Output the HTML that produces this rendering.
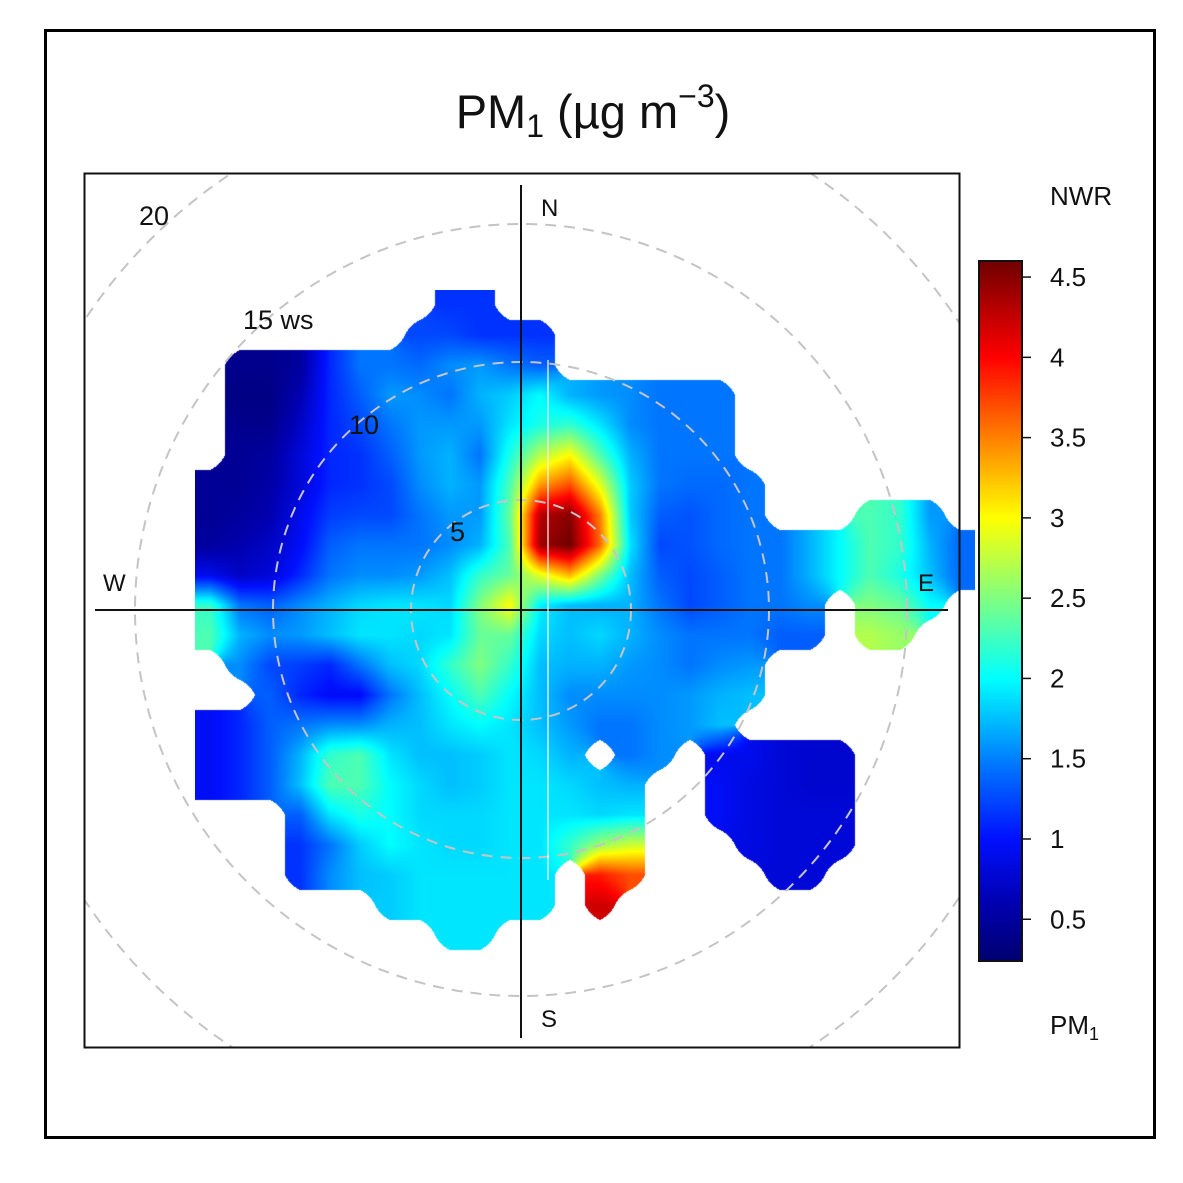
<!DOCTYPE html>
<html><head><meta charset="utf-8">
<style>
html,body{margin:0;padding:0;background:#fff;}
#wrap{position:relative;width:1183px;height:1183px;overflow:hidden;font-family:"Liberation Sans",sans-serif;}
#heat{position:absolute;left:195px;top:290px;}
#ov{position:absolute;left:0;top:0;}
</style></head>
<body>
<div id="wrap">
<canvas id="heat" width="780" height="690"></canvas>
<svg id="ov" width="1183" height="1183" xmlns="http://www.w3.org/2000/svg">
  <defs>
    <clipPath id="pclip"><rect x="84" y="173" width="876" height="875"/></clipPath>
    <linearGradient id="cbgrad" x1="0" y1="1" x2="0" y2="0"></linearGradient>
  </defs>
  <rect x="45.5" y="30.5" width="1109" height="1107" fill="none" stroke="#000" stroke-width="3"/>
  <text x="593" y="128" text-anchor="middle" font-size="47" fill="#111">PM<tspan font-size="32" dy="9">1</tspan><tspan dy="-9"> (µg m</tspan><tspan font-size="32" dy="-21">−3</tspan><tspan dy="21">)</tspan></text>
  <g id="rings" clip-path="url(#pclip)"></g>
  <line x1="521" y1="185" x2="521" y2="1038" stroke="#111" stroke-width="2"/>
  <line x1="95" y1="610" x2="948" y2="610" stroke="#111" stroke-width="2"/>
  <line x1="548" y1="360" x2="548" y2="880" stroke="#fff" stroke-width="1.5" opacity="0.8"/>
  <rect x="84.5" y="173.5" width="875" height="874" fill="none" stroke="#111" stroke-width="2"/>
  <g font-size="24" fill="#111">
    <text x="541" y="216">N</text>
    <text x="541" y="1027">S</text>
    <text x="103" y="591">W</text>
    <text x="918" y="591">E</text>
    <text x="450" y="541" font-size="27">5</text>
    <text x="349" y="434" font-size="27">10</text>
    <text x="243" y="329" font-size="27">15 ws</text>
    <text x="139" y="225" font-size="27">20</text>
  </g>
  <rect x="979" y="261" width="43" height="700" fill="url(#cbgrad)" stroke="#111" stroke-width="2"/>
  <g id="cbticks" font-size="26" fill="#111"></g>
  <text x="1050" y="205" font-size="26" fill="#111">NWR</text>
  <text x="1050" y="1034" font-size="26" fill="#111">PM<tspan font-size="18" dy="6">1</tspan></text>
</svg>
</div>
<script>
const _ = null;
// colour scale
const scaleValues = [0.24, 0.6, 1.0, 1.5, 2.0, 2.5, 3.0, 3.5, 4.0, 4.6];
const scaleColors = ["#000070","#0000B0","#0010FF","#0080FF","#00FFFF","#80FF80","#FFFF00","#FF8000","#FF0000","#700000"];
const tickValues = [0.5, 1, 1.5, 2, 2.5, 3, 3.5, 4, 4.5];
const tickLabels = ["0.5","1","1.5","2","2.5","3","3.5","4","4.5"];
const ringWs = [5, 10, 15, 20];
const ringRadii = [110, 248, 386, 524];
// gridded PM1 values (rows north->south, cols west->east)
const gridRows = [
[_,_,_,_,_,_,_,_,1.15,1.15,_,_,_,_,_,_,_,_,_,_,_,_,_,_,_,_],
[_,_,_,_,_,_,_,1.25,1.25,1.15,1.15,1.15,_,_,_,_,_,_,_,_,_,_,_,_,_,_],
[_,0.4,0.4,0.5,1.1,1.45,1.45,1.4,1.55,1.6,1.45,1.35,_,_,_,_,_,_,_,_,_,_,_,_,_,_],
[_,0.35,0.35,0.6,1.1,1.35,1.6,1.55,1.45,1.7,1.8,2.0,1.7,1.6,1.55,1.45,1.45,1.45,_,_,_,_,_,_,_,_],
[_,0.4,0.4,0.7,1.1,1.25,1.45,1.6,1.6,1.6,1.9,2.1,2.2,1.9,1.55,1.45,1.45,1.45,_,_,_,_,_,_,_,_],
[_,0.45,0.5,0.8,1.1,1.15,1.35,1.6,1.7,1.45,2.1,2.7,3.0,2.3,1.7,1.45,1.45,1.45,_,_,_,_,_,_,_,_],
[0.45,0.45,0.55,0.8,1.1,1.15,1.25,1.55,1.7,1.6,2.3,3.4,3.7,2.9,1.8,1.45,1.4,1.4,1.45,_,_,_,_,_,_,_],
[0.45,0.5,0.6,0.9,1.2,1.25,1.25,1.45,1.6,1.6,2.4,4.3,4.5,3.5,1.8,1.35,1.3,1.4,1.45,_,_,_,2.3,2.2,1.6,_],
[0.5,0.6,0.7,0.95,1.35,1.45,1.45,1.45,1.55,1.7,2.3,4.4,4.6,3.6,1.9,1.25,1.3,1.4,1.45,1.45,1.7,2.0,2.3,2.2,1.7,1.4],
[0.9,0.7,0.8,1.1,1.45,1.55,1.55,1.6,1.75,2.2,2.4,2.9,3.3,2.5,1.75,1.35,1.25,1.35,1.45,1.45,1.7,2.0,2.3,2.1,1.75,1.4],
[2.2,1.45,1.35,1.55,1.7,1.85,1.9,1.9,1.85,2.5,3.0,1.95,1.75,1.7,1.7,1.45,1.25,1.35,1.45,1.45,1.55,_,2.5,2.4,2.0,_],
[2.3,1.7,1.55,1.6,1.75,1.9,1.9,1.85,1.9,2.4,2.4,1.85,1.75,1.85,1.7,1.55,1.45,1.45,1.45,1.35,1.35,_,2.7,2.6,_,_],
[_,1.55,1.25,1.2,1.1,1.45,1.75,1.85,2.2,2.5,2.2,1.75,1.7,1.7,1.6,1.55,1.45,1.55,1.6,_,_,_,_,_,_,_],
[_,_,1.35,1.1,0.95,0.95,1.45,1.75,2.0,2.3,2.0,1.75,1.55,1.55,1.55,1.55,1.6,1.7,1.75,_,_,_,_,_,_,_],
[0.95,1.1,1.35,1.45,1.55,1.55,1.7,1.75,1.9,2.0,1.9,1.75,1.6,1.45,1.45,1.55,1.6,1.75,_,_,_,_,_,_,_,_],
[0.95,1.1,1.35,1.7,2.2,2.3,1.9,1.75,1.75,1.8,1.9,1.85,1.7,_,1.45,1.55,_,0.9,0.9,0.8,0.75,0.75,_,_,_,_],
[0.95,1.1,1.35,1.75,2.3,2.3,2.0,1.85,1.75,1.8,1.9,1.9,1.85,1.75,1.7,_,_,0.95,0.85,0.8,0.75,0.75,_,_,_,_],
[_,_,_,1.35,1.9,2.1,2.0,1.85,1.85,1.85,1.9,1.9,1.9,1.85,1.9,_,_,0.95,0.85,0.8,0.8,0.8,_,_,_,_],
[_,_,_,1.15,1.45,1.8,2.0,1.9,1.85,1.85,1.9,1.9,2.2,2.6,2.8,_,_,_,0.85,0.8,0.8,0.8,_,_,_,_],
[_,_,_,1.15,1.55,1.75,1.8,1.9,1.9,1.9,1.9,1.9,_,3.9,3.7,_,_,_,_,0.8,0.8,_,_,_,_,_],
[_,_,_,_,_,_,1.8,1.9,1.9,1.9,1.9,1.9,_,4.2,_,_,_,_,_,_,_,_,_,_,_,_],
[_,_,_,_,_,_,_,_,1.9,1.9,_,_,_,_,_,_,_,_,_,_,_,_,_,_,_,_],
[_,_,_,_,_,_,_,_,_,_,_,_,_,_,_,_,_,_,_,_,_,_,_,_,_,_]
];

const CELL = 30;
const cbTop = 261, cbBot = 961;
function cbY(v){ return cbBot - (v - scaleValues[0]) / (scaleValues[scaleValues.length-1] - scaleValues[0]) * (cbBot - cbTop); }
function hexRgb(h){ return [parseInt(h.substr(1,2),16),parseInt(h.substr(3,2),16),parseInt(h.substr(5,2),16)]; }
const rgbStops = scaleColors.map(hexRgb);
function colorOf(v){
  const n = scaleValues.length;
  if (v <= scaleValues[0]) return rgbStops[0];
  if (v >= scaleValues[n-1]) return rgbStops[n-1];
  for (let i=0;i<n-1;i++){
    if (v <= scaleValues[i+1]){
      const t=(v-scaleValues[i])/(scaleValues[i+1]-scaleValues[i]);
      const a=rgbStops[i], b=rgbStops[i+1];
      return [a[0]+(b[0]-a[0])*t, a[1]+(b[1]-a[1])*t, a[2]+(b[2]-a[2])*t];
    }
  }
}

// heatmap
(function(){
  const cv = document.getElementById('heat');
  const ctx = cv.getContext('2d');
  const W = cv.width, H = cv.height;
  const img = ctx.createImageData(W,H);
  const R = gridRows.length, C = gridRows[0].length;
  function g(r,c){ r=Math.max(0,Math.min(R-1,r)); c=Math.max(0,Math.min(C-1,c)); return gridRows[r][c]; }
  for (let y=0;y<H;y++){
    const gy=(y+0.5-CELL/2)/CELL, r0=Math.floor(gy), ty=gy-r0;
    for (let x=0;x<W;x++){
      const gx=(x+0.5-CELL/2)/CELL, c0=Math.floor(gx), tx=gx-c0;
      const pts=[[r0,c0,(1-tx)*(1-ty)],[r0,c0+1,tx*(1-ty)],[r0+1,c0,(1-tx)*ty],[r0+1,c0+1,tx*ty]];
      let m=0, s=0;
      for (const p of pts){ const v=g(p[0],p[1]); if (v!==null){ m+=p[2]; s+=p[2]*v; } }
      if (m < 0.5) continue;
      const col = colorOf(s/m);
      const k=(y*W+x)*4;
      img.data[k]=col[0]; img.data[k+1]=col[1]; img.data[k+2]=col[2]; img.data[k+3]=255;
    }
  }
  ctx.putImageData(img,0,0);
})();

const NS='http://www.w3.org/2000/svg';
// rings
const ringG = document.getElementById('rings');
ringRadii.forEach((rad,i)=>{
  const c=document.createElementNS(NS,'circle');
  c.setAttribute('cx',521); c.setAttribute('cy',610); c.setAttribute('r',rad);
  c.setAttribute('fill','none'); c.setAttribute('stroke','#c4c4c4'); c.setAttribute('stroke-width','2');
  c.setAttribute('stroke-dasharray','11 8');
  
  
  ringG.appendChild(c);
});
// colorbar gradient
const grad = document.getElementById('cbgrad');
scaleValues.forEach((v,i)=>{
  const st=document.createElementNS(NS,'stop');
  st.setAttribute('offset', ((v-scaleValues[0])/(scaleValues[scaleValues.length-1]-scaleValues[0])).toFixed(4));
  st.setAttribute('stop-color', scaleColors[i]);
  grad.appendChild(st);
});
// colorbar ticks
const tg = document.getElementById('cbticks');
tickValues.forEach((v,i)=>{
  const y=cbY(v);
  const l=document.createElementNS(NS,'line');
  l.setAttribute('x1',1022); l.setAttribute('x2',1031); l.setAttribute('y1',y); l.setAttribute('y2',y);
  l.setAttribute('stroke','#111'); l.setAttribute('stroke-width','1.5');
  
  
  tg.appendChild(l);
  const t=document.createElementNS(NS,'text');
  t.setAttribute('x',1050); t.setAttribute('y',y+9);
  t.textContent=tickLabels[i];
  
  
  tg.appendChild(t);
});
</script>
</body></html>
